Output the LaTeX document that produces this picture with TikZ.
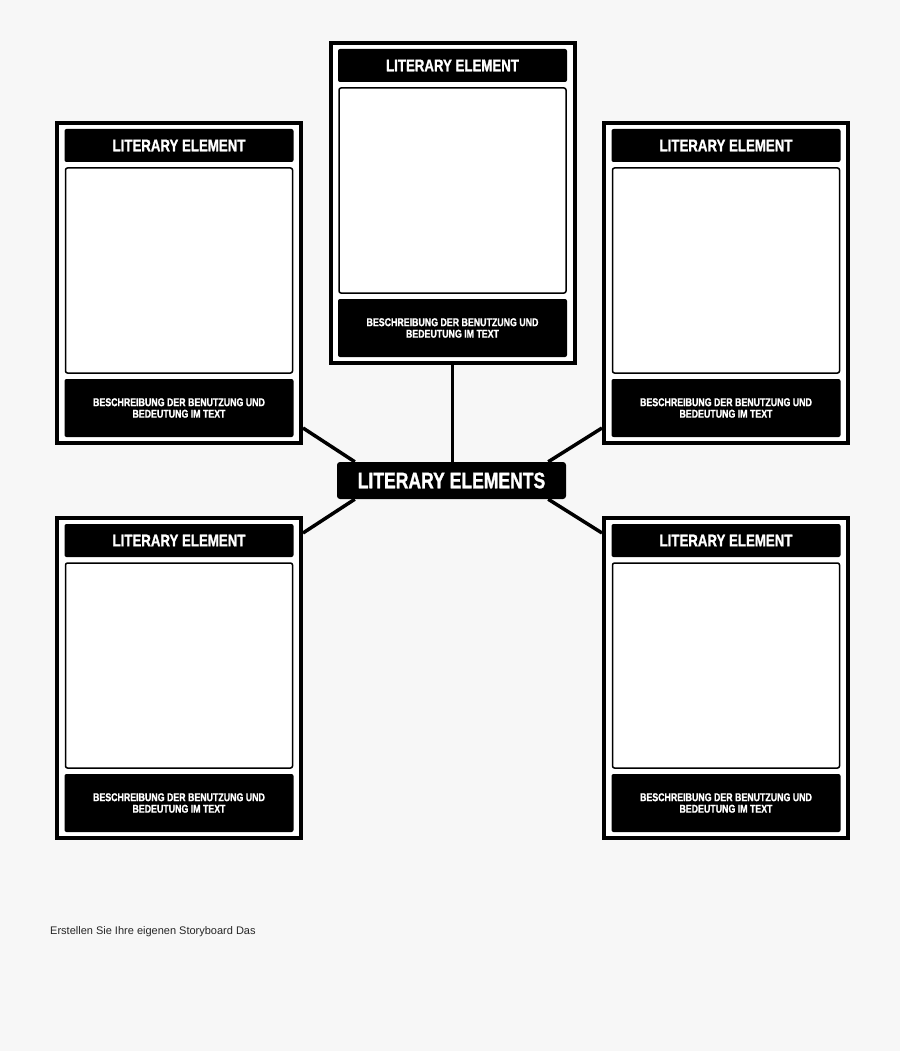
\documentclass[tikz,border=0pt]{standalone}
\usepackage{fontspec}
\setmainfont{Liberation Sans}
\newfontfamily\condfont[FakeStretch=0.78,BoldFeatures={FakeBold=1.2}]{Liberation Sans}
\usetikzlibrary{calc}
\definecolor{bgc}{HTML}{F7F7F7}
\tikzset{
  cardframe/.style={draw=black, line width=4pt, fill=white, minimum width=244pt, minimum height=320pt, inner sep=0pt},
  titlebar/.style={fill=black, rounded corners=2pt, minimum width=229pt, minimum height=33pt, inner sep=0pt, text=white, font=\condfont\bfseries\fontsize{17}{18}\selectfont},
  imagebox/.style={draw=black, line width=1.5pt, fill=white, rounded corners=2pt, minimum width=227pt, minimum height=205pt, inner sep=0pt},
  descbar/.style={fill=black, rounded corners=2pt, minimum width=229pt, minimum height=58pt, inner sep=0pt, text=white, align=center, font=\condfont\bfseries\fontsize{11.3}{11.5}\selectfont},
  hubnode/.style={fill=black, rounded corners=3pt, minimum width=229pt, minimum height=37pt, inner sep=0pt, text=white, font=\condfont\bfseries\fontsize{22.5}{24}\selectfont},
  link/.style={draw=black, line width=3.5pt},
}
\newcommand{\mkcard}[2]{%
  \node[cardframe] (#1) at (#2) {};
  \node[titlebar] (#1t) at ($(#1.center)+(0,-137.5)$) {LITERARY ELEMENT};
  \node[imagebox] (#1i) at ($(#1.center)+(0,-12.5)$) {};
  \node[descbar] (#1d) at ($(#1.center)+(0,125)$) {BESCHREIBUNG DER BENUTZUNG UND\\BEDEUTUNG IM TEXT};
}
\begin{document}
\begin{tikzpicture}[x=1pt, y=-1pt]
\fill[bgc] (0,0) rectangle (900,1051);
\useasboundingbox (0,0) rectangle (900,1051);
\node[hubnode] (hub) at (451.5,480.5) {LITERARY ELEMENTS};
\coordinate (cnw) at ($(hub.north west)+(18,0)$);
\coordinate (csw) at ($(hub.south west)+(18,0)$);
\coordinate (cne) at ($(hub.north east)+(-18,0)$);
\coordinate (cse) at ($(hub.south east)+(-18,0)$);
\mkcard{ctop}{452.5,203}
\mkcard{ctl}{179,283}
\mkcard{ctr}{726,283}
\mkcard{cbl}{179,678}
\mkcard{cbr}{726,678}
\draw[link] (ctop.south) -- (ctop.south |- hub.north);
\draw[link] ($(ctl.east)+(0,145)$) -- (cnw);
\draw[link] ($(cbl.east)+(0,-145)$) -- (csw);
\draw[link] ($(ctr.west)+(0,145)$) -- (cne);
\draw[link] ($(cbr.west)+(0,-145)$) -- (cse);
\node[anchor=west, inner sep=0pt, font=\fontsize{11}{12}\selectfont, text=black!85] (foot) at (50,932) {Erstellen Sie Ihre eigenen Storyboard Das};
\end{tikzpicture}
\end{document}
